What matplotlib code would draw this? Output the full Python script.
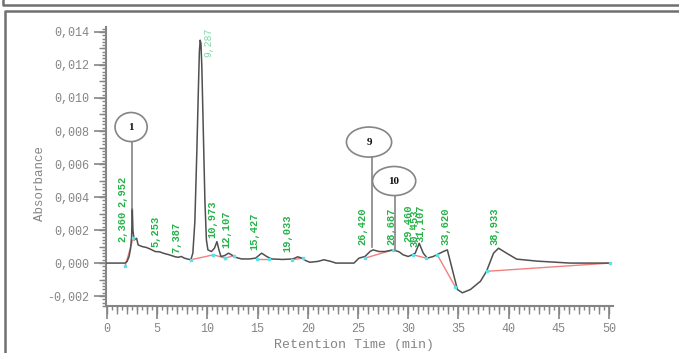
import numpy as np
import matplotlib.pyplot as plt
from matplotlib.patches import Ellipse
from matplotlib.lines import Line2D
from matplotlib.ticker import MultipleLocator, FuncFormatter

# chromatogram trace (time in min, absorbance)
trace_t = [0.0, 1.8, 2.0, 2.2, 2.35, 2.45, 2.52, 2.58, 2.7, 2.95, 3.1, 3.5, 3.9, 4.3, 4.8,
           5.25, 5.6, 6.2, 6.8, 7.1, 7.4, 7.7, 8.0, 8.35, 8.55, 8.75, 8.95, 9.1, 9.2, 9.28,
           9.36, 9.45, 9.6, 9.75, 9.9, 10.05, 10.4, 10.7, 10.95, 11.15, 11.35, 11.7, 12.1,
           12.4, 12.8, 13.4, 14.2, 14.8, 15.4, 15.9, 16.4, 17.5, 18.5, 19.0, 19.4, 19.8,
           20.2, 21.0, 21.6, 22.3, 22.8, 24.6, 25.1, 25.7, 26.2, 26.5, 27.1, 27.7, 28.5,
           29.1, 29.5, 30.0, 30.4, 30.7, 31.1, 31.5, 31.9, 32.5, 33.5, 33.9, 34.4, 34.9,
           35.4, 36.2, 37.2, 37.8, 38.5, 39.0, 39.8, 40.8, 42.8, 46.1, 50.0]
trace_v = [0.0, 0.0, 0.0001, 0.0004, 0.0009, 0.0016, 0.0033, 0.0020, 0.0014, 0.0015, 0.0011,
           0.0010, 0.00095, 0.00085, 0.0007, 0.00068, 0.0006, 0.0005, 0.00038, 0.00035,
           0.0004, 0.0003, 0.00025, 0.0002, 0.0006, 0.0025, 0.0068, 0.0105, 0.0128, 0.0135,
           0.0133, 0.0118, 0.0078, 0.0038, 0.0014, 0.0008, 0.0007, 0.0009, 0.0013, 0.0008,
           0.0004, 0.00045, 0.0006, 0.0005, 0.00035, 0.00025, 0.00025, 0.0003, 0.0006,
           0.0004, 0.00025, 0.00022, 0.00025, 0.00038, 0.0003, 0.00015, 0.00005, 0.0001,
           0.0002, 0.0001, 0.0, 0.0, 0.0003, 0.0004, 0.0007, 0.0008, 0.0007, 0.0007, 0.0008,
           0.00068, 0.0005, 0.0004, 0.0005, 0.0006, 0.0012, 0.0006, 0.0003, 0.0004, 0.0007,
           0.0008, -0.0004, -0.0016, -0.0018, -0.0016, -0.0011, -0.0005, 0.0006, 0.0009,
           0.0006, 0.00024, 0.00012, 0.0, 0.0]

# integration baselines (start t, start v, end t, end v)
base_t0 = [1.8, 8.35, 10.6, 11.8, 14.9, 18.4, 25.7, 30.5, 32.9, 37.8]
base_v0 = [-0.0002, 0.0002, 0.0005, 0.0003, 0.00025, 0.0002, 0.0003, 0.0005, 0.0005, -0.0005]
base_t1 = [2.6, 10.6, 11.8, 12.6, 16.1, 19.5, 28.5, 31.8, 34.7, 50.1]
base_v1 = [0.0015, 0.0005, 0.0003, 0.00045, 0.00025, 0.0003, 0.0008, 0.0003, -0.00145, 0.0]

# peak retention times
peaks = [2.360, 2.952, 5.253, 7.387, 9.287, 10.973, 12.107, 15.427, 19.033,
         26.420, 28.687, 29.460, 30.453, 31.107, 33.620, 38.933]
# label placement (x centre, bottom) in data units
label_x = [1.5, 1.5, 4.8, 6.9, 10.1, 10.5, 11.9, 14.7, 18.0,
           25.4, 28.3, 30.0, 30.6, 31.2, 33.7, 38.6]
label_y = [0.00127, 0.0034, 0.00097, 0.0006, 0.0125, 0.0015, 0.0009, 0.0008, 0.00067,
           0.0011, 0.0011, 0.0013, 0.001, 0.0013, 0.0011, 0.0011]

# numbered callouts
call_txt = ['1', '9', '10']
call_t = [2.5, 26.4, 28.65]
call_top = [0.0033, 0.001, 0.0008]

GRAY = '#858585'
mono = 'Liberation Mono'

fig = plt.figure(figsize=(6.79, 3.53), dpi=100)
ax = fig.add_axes([106 / 679, 1 - 306 / 353, 507 / 679, 279 / 353])

ax.plot(trace_t, trace_v, color='#505050', lw=1.1, zorder=3)
for a, b, c, d in zip(base_t0, base_v0, base_t1, base_v1):
    ax.plot([a, c], [b, d], color='#f28080', lw=1.0, zorder=2)
    ax.plot([a, c], [b, d], ls='none', marker='s', ms=1.8, color='#5ee0e8', zorder=4)

for t, x, y in zip(peaks, label_x, label_y):
    txt = f'{t:.3f}'.replace('.', ',')
    if abs(t - 9.287) < 1e-6:
        ax.text(x, y, txt, rotation=90, ha='center', va='bottom', color='#7fd6a4',
                family=mono, fontsize=7)
    else:
        ax.text(x, y, txt, rotation=90, ha='center', va='bottom', color='#23b347',
                family=mono, fontsize=7.5, fontweight='bold')

# callout ellipses
ell_c = [(2.4, 0.00824), (26.1, 0.00733), (28.6, 0.00497)]
ell_w = [3.2, 4.5, 4.3]
ell_h = [0.00176, 0.00182, 0.00176]
for s, t, top, (cx, cy), w, h in zip(call_txt, call_t, call_top, ell_c, ell_w, ell_h):
    ax.add_patch(Ellipse((cx, cy), w, h, fill=False, ec=GRAY, lw=1.2, zorder=5, clip_on=False))
    ax.plot([t, t], [cy - h / 2, top], color=GRAY, lw=1.2, zorder=5)
    ax.text(cx, cy, s, ha='center', va='center', fontsize=8, fontweight='bold',
            family='Liberation Serif', color='#111111', zorder=6)

ax.set_xlim(-0.1, 50.4)
ax.set_ylim(-0.0026, 0.0143)
for side in ['top', 'right']:
    ax.spines[side].set_visible(False)
for side in ['left', 'bottom']:
    ax.spines[side].set_color(GRAY)
    ax.spines[side].set_linewidth(1.5)

ax.xaxis.set_major_locator(MultipleLocator(5))
ax.xaxis.set_minor_locator(MultipleLocator(0.5))
ax.yaxis.set_major_locator(MultipleLocator(0.002))
ax.yaxis.set_minor_locator(MultipleLocator(0.0002))
ax.yaxis.set_major_formatter(FuncFormatter(lambda v, p: f'{v:.3f}'.replace('.', ',')))
ax.tick_params(which='major', length=9, width=1.2, color=GRAY, labelcolor=GRAY,
               labelsize=8.5, pad=3)
ax.tick_params(which='minor', length=3, width=1, color=GRAY)
for lab in ax.get_xticklabels() + ax.get_yticklabels():
    lab.set_family(mono)

# intermediate tick level
secx = ax.secondary_xaxis('bottom')
secx.xaxis.set_major_locator(MultipleLocator(1))
secx.tick_params(length=6, width=1, color=GRAY, labelbottom=False)
secx.spines['bottom'].set_visible(False)
secy = ax.secondary_yaxis('left')
secy.yaxis.set_major_locator(MultipleLocator(0.001))
secy.tick_params(length=5, width=1, color=GRAY, labelleft=False)
secy.spines['left'].set_visible(False)

ax.set_xlabel('Retention Time (min)', family=mono, fontsize=9.5, color=GRAY)
ax.set_ylabel('Absorbance', family=mono, fontsize=9, color=GRAY)
ax.xaxis.set_label_coords(0.49, -0.12)
ax.yaxis.set_label_coords(-0.118, 0.44)

# panel frames
def frame(xs, ys):
    fig.add_artist(Line2D([x / 679 for x in xs], [1 - y / 353 for y in ys],
                          transform=fig.transFigure, color='#707070', lw=1.8))

frame([3, 3, 679], [0, 5, 5])
frame([679, 5, 5], [11, 11, 353])

fig.savefig('out.png', dpi=100)
